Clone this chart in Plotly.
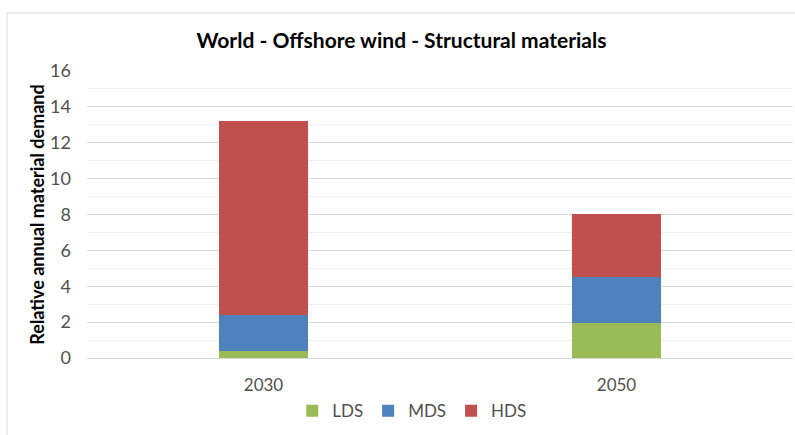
import plotly.graph_objects as go

years = ["2030", "2050"]
lds = [0.41, 1.93]
mds = [1.99, 2.60]
hds = [10.81, 3.48]
series_names = ["LDS", "MDS", "HDS"]
colors = ["#9BBB59", "#4F81BD", "#C0504D"]

fig = go.Figure()
for name, vals, c in zip(series_names, [lds, mds, hds], colors):
    fig.add_trace(go.Bar(x=years, y=vals, name=name, marker=dict(color=c, line=dict(width=0))))

FONT = "Lato, Calibri, Carlito, sans-serif"
fig.update_layout(
    width=795, height=435,
    barmode="stack", bargap=0.75,
    paper_bgcolor="white", plot_bgcolor="white",
    margin=dict(l=87, r=2, t=71, b=77),
    font=dict(family=FONT, size=16, color="#505050"),
    title=dict(text="<b>World - Offshore wind - Structural materials</b>",
               x=0.505, xanchor="center", y=1 - 41 / 435, yanchor="middle",
               font=dict(family=FONT, size=21, color="#000000")),
    legend=dict(orientation="h", x=0.46, xanchor="center", y=-0.185, yanchor="middle",
                font=dict(family=FONT, size=17, color="#505050"), traceorder="normal",
                itemwidth=30),
    showlegend=True,
)
fig.update_yaxes(range=[0, 16], dtick=2, showgrid=True, gridcolor="#d9d9d9", gridwidth=1,
                 minor=dict(dtick=1, showgrid=True, gridcolor="#f0f0f0", gridwidth=1),
                 zeroline=False, showline=False, ticks="", ticklabelstandoff=15,
                 title=dict(text="<b>Relative annual material demand</b>",
                            font=dict(family=FONT, size=18, color="#000000"), standoff=0),
                 tickfont=dict(family=FONT, size=18, color="#505050"))
fig.update_xaxes(showgrid=False, showline=True, linecolor="#d9d9d9", ticks="", ticklabelstandoff=12,
                 tickfont=dict(family=FONT, size=17, color="#505050"))

# outer chart border (Excel chart area)
fig.add_shape(type="rect", xref="paper", yref="paper",
              x0=(7 - 87) / 706, x1=1.2, y0=-0.6, y1=(358 - 13) / 287,
              line=dict(color="#d9d9d9", width=1), fillcolor="rgba(0,0,0,0)", layer="below")

fig.write_html("out.html")
